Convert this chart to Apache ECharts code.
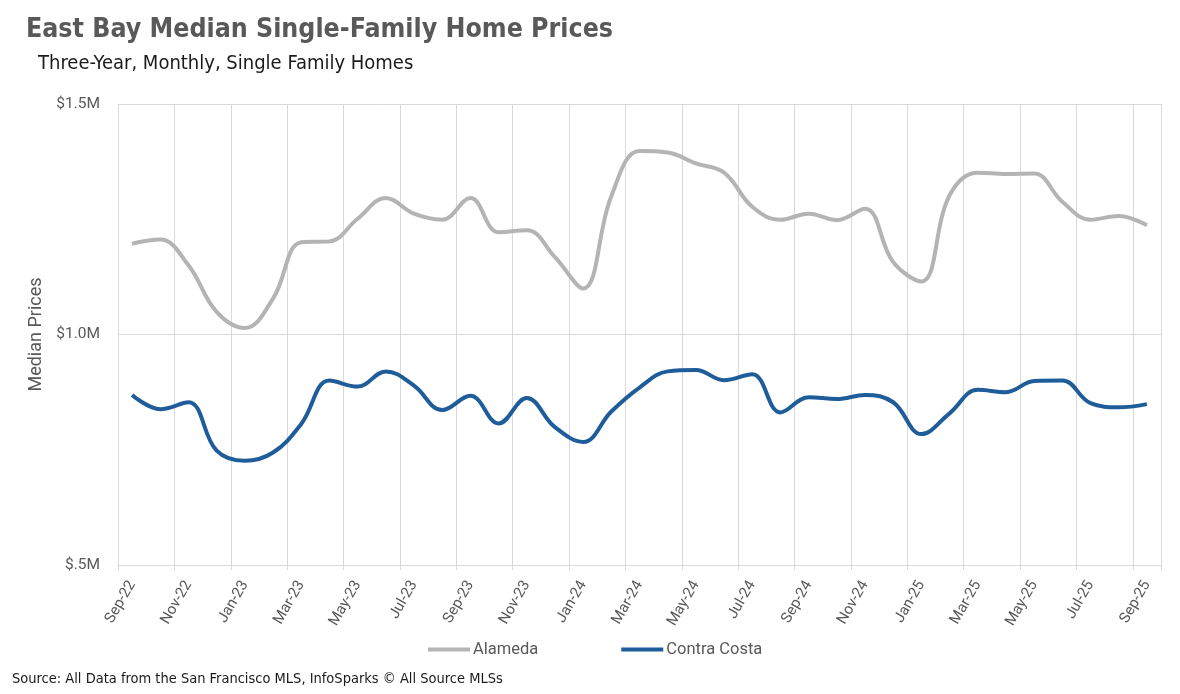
<!DOCTYPE html>
<html>
<head>
<meta charset="utf-8">
<script src="https://cdn.jsdelivr.net/npm/echarts@6/dist/echarts.min.js"></script>
<style>
  html, body { margin: 0; padding: 0; background: #ffffff; }
  #chart { width: 1180px; height: 694px; }
</style>
</head>
<body>
<div id="chart"></div>
<script>
const months = [
  'Sep-22','Oct-22','Nov-22','Dec-22','Jan-23','Feb-23','Mar-23','Apr-23','May-23','Jun-23','Jul-23','Aug-23',
  'Sep-23','Oct-23','Nov-23','Dec-23','Jan-24','Feb-24','Mar-24','Apr-24','May-24','Jun-24','Jul-24','Aug-24',
  'Sep-24','Oct-24','Nov-24','Dec-24','Jan-25','Feb-25','Mar-25','Apr-25','May-25','Jun-25','Jul-25','Aug-25',
  'Sep-25'
];
const alameda = [
  1197000, 1206000, 1150000, 1049000, 1014000, 1078000, 1200000, 1202000, 1251000, 1296000, 1262000, 1249000,
  1296000, 1222000, 1226000, 1168000, 1100000, 1300000, 1398000, 1395000, 1371000, 1351000, 1277000, 1249000,
  1262000, 1248000, 1273000, 1157000, 1115000, 1302000, 1351000, 1348000, 1349000, 1288000, 1249000, 1257000,
  1237000
];
const contraCosta = [
  869000, 838000, 853000, 748000, 726000, 744000, 806000, 900000, 887000, 920000, 889000, 836000,
  867000, 807000, 862000, 799000, 767000, 833000, 885000, 920000, 923000, 901000, 914000, 831000,
  864000, 860000, 869000, 853000, 784000, 829000, 880000, 875000, 899000, 900000, 851000, 842000,
  849000
];
const yTicks = [500000, 1000000, 1500000];

const condensed = '"Liberation Sans Narrow", "DejaVu Sans Condensed", Roboto, sans-serif';
const base = 'Roboto, "Noto Sans", sans-serif';

const chart = echarts.init(document.getElementById('chart'));
chart.setOption({
  backgroundColor: '#ffffff',
  animation: false,
  title: [
    { text: 'East Bay Median Single-Family Home Prices', left: 21, top: 12,
      textStyle: { fontFamily: condensed, fontSize: 26.5, fontWeight: 'bold', color: '#595959' } },
    { text: 'Three-Year, Monthly, Single Family Homes', left: 33, top: 49,
      textStyle: { fontFamily: condensed, fontSize: 20, fontWeight: 'normal', color: '#1a1a1a' } },
    { text: 'Source: All Data from the San Francisco MLS, InfoSparks \u00A9 All Source MLSs', left: 7, top: 667,
      textStyle: { fontFamily: condensed, fontSize: 14.5, fontWeight: 'normal', color: '#1a1a1a' } }
  ],
  legend: {
    left: 423, top: 636, itemWidth: 42, itemHeight: 4, itemGap: 83, icon: 'rect',
    textStyle: { fontFamily: base, fontSize: 16.5, color: '#595959', padding: [0, 0, 0, -2] },
    data: ['Alameda', 'Contra Costa']
  },
  grid: { left: 118, right: 19, top: 104, bottom: 129, containLabel: false },
  xAxis: {
    type: 'category', data: months, boundaryGap: true,
    axisLine: { show: true, lineStyle: { color: '#d9d9d9', width: 1 } },
    axisTick: { show: true, interval: 1, length: 5, lineStyle: { color: '#d9d9d9' } },
    splitLine: { show: true, interval: 1, lineStyle: { color: '#d9d9d9', width: 1 } },
    axisLabel: { interval: 1, rotate: 60, margin: 17, fontFamily: base, fontSize: 15, color: '#595959' }
  },
  yAxis: {
    type: 'value', min: yTicks[0], max: yTicks[yTicks.length - 1], interval: yTicks[1] - yTicks[0],
    name: 'Median Prices', nameLocation: 'middle', nameRotate: 90, nameGap: 72,
    nameTextStyle: { fontFamily: base, fontSize: 18, color: '#595959' },
    axisLine: { show: false }, axisTick: { show: false },
    splitLine: { show: true, lineStyle: { color: '#d9d9d9', width: 1 } },
    axisLabel: {
      margin: 18, fontFamily: base, fontSize: 15.5, color: '#595959',
      formatter: function (v) { return '$' + (v / 1e6).toFixed(1).replace(/^0/, '') + 'M'; }
    }
  },
  series: [
    { name: 'Alameda', type: 'line', data: alameda, smooth: 0.4, showSymbol: false,
      lineStyle: { color: '#b4b4b4', width: 4 }, itemStyle: { color: '#b4b4b4' } },
    { name: 'Contra Costa', type: 'line', data: contraCosta, smooth: 0.4, showSymbol: false,
      lineStyle: { color: '#1f5c9a', width: 4 }, itemStyle: { color: '#1f5c9a' } }
  ]
});
</script>
</body>
</html>
